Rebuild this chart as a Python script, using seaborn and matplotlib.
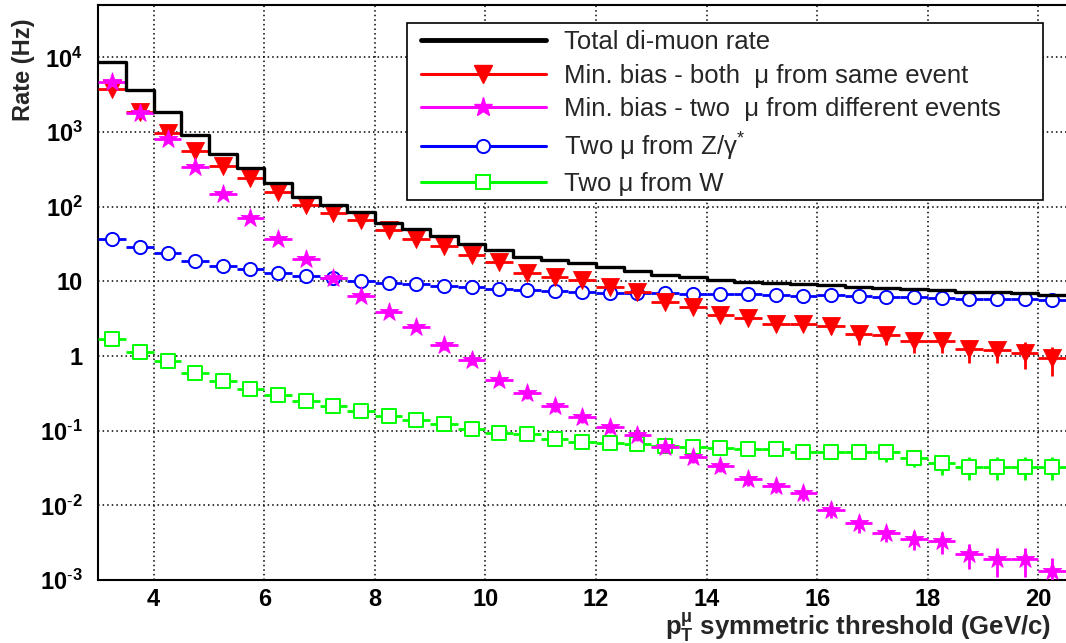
import numpy as np
import matplotlib
matplotlib.use("Agg")
import matplotlib.pyplot as plt
from matplotlib.lines import Line2D
from matplotlib.patches import Rectangle
from matplotlib.ticker import FixedLocator, FixedFormatter, MultipleLocator, LogLocator, NullFormatter
import seaborn as sns

# pT threshold bins (GeV/c)
bin_edges = [3.0, 3.5, 4.0, 4.5, 5.0, 5.5, 6.0, 6.5, 7.0, 7.5, 8.0, 8.5, 9.0, 9.5,
             10.0, 10.5, 11.0, 11.5, 12.0, 12.5, 13.0, 13.5, 14.0, 14.5, 15.0, 15.5,
             16.0, 16.5, 17.0, 17.5, 18.0, 18.5, 19.0, 19.5, 20.0, 20.5]
pt_threshold = [3.25, 3.75, 4.25, 4.75, 5.25, 5.75, 6.25, 6.75, 7.25, 7.75, 8.25, 8.75,
                9.25, 9.75, 10.25, 10.75, 11.25, 11.75, 12.25, 12.75, 13.25, 13.75,
                14.25, 14.75, 15.25, 15.75, 16.25, 16.75, 17.25, 17.75, 18.25, 18.75,
                19.25, 19.75, 20.25]

# rates in Hz
total_rate = [8700, 3700, 1830, 920, 515, 325, 205, 135, 105, 84, 60, 50, 40, 31.6, 26,
              21, 19.3, 17.4, 15.7, 13.8, 12.1, 11.3, 10.3, 9.9, 9.4, 9.2, 9.0, 8.4, 8.2,
              7.9, 7.7, 7.2, 7.1, 6.9, 6.6]
same_event = [3800, 1850, 980, 560, 355, 240, 155, 105, 83, 66, 49, 37, 29.6, 22.5, 18.3,
              12.8, 11.5, 10.4, 8.3, 7.3, 5.3, 4.6, 3.5, 3.2, 2.7, 2.7, 2.5, 2.0, 1.9, 1.6,
              1.6, 1.23, 1.2, 1.09, 0.93]
same_event_err = [120, 60, 40, 25, 18, 12, 8, 6, 5, 4, 3.2, 2.6, 2.2, 1.8, 1.6, 1.3, 1.2,
                  1.1, 1.0, 0.9, 0.8, 0.75, 0.55, 0.5, 0.45, 0.45, 0.5, 0.6, 0.5, 0.5, 0.5,
                  0.43, 0.4, 0.43, 0.39]
diff_events = [4700, 1800, 815, 340, 150, 71, 37, 19.7, 11.2, 6.4, 3.9, 2.47, 1.40, 0.88,
               0.48, 0.316, 0.214, 0.154, 0.112, 0.087, 0.061, 0.045, 0.034, 0.0223, 0.018,
               0.0145, 0.0087, 0.0058, 0.0042, 0.0035, 0.0033, 0.0022, 0.0019, 0.0019, 0.0013]
diff_events_err = [150, 80, 40, 20, 10, 5, 3, 1.8, 1.1, 0.7, 0.45, 0.3, 0.18, 0.12, 0.07,
                   0.05, 0.035, 0.026, 0.02, 0.015, 0.011, 0.008, 0.006, 0.004, 0.0035,
                   0.003, 0.002, 0.0015, 0.001, 0.001, 0.0011, 0.0008, 0.0008, 0.0008, 0.0007]
z_gamma = [36.5, 28.5, 23.7, 18.9, 16.2, 14.5, 12.8, 11.8, 11.0, 10.1, 9.6, 9.1, 8.65, 8.3,
           7.96, 7.6, 7.5, 7.25, 7.0, 7.0, 7.0, 6.76, 6.76, 6.76, 6.6, 6.4, 6.55, 6.35, 6.2,
           6.2, 6.03, 5.85, 5.85, 5.75, 5.63]
z_gamma_err = [0.5, 0.4, 0.35, 0.3, 0.25, 0.22, 0.2, 0.18, 0.17, 0.16, 0.15, 0.15, 0.14,
               0.14, 0.13, 0.13, 0.13, 0.12, 0.12, 0.12, 0.12, 0.12, 0.12, 0.12, 0.12, 0.12,
               0.12, 0.12, 0.12, 0.12, 0.12, 0.12, 0.12, 0.12, 0.12]
w_boson = [1.69, 1.14, 0.857, 0.60, 0.458, 0.358, 0.30, 0.252, 0.216, 0.185, 0.159, 0.139,
           0.122, 0.105, 0.092, 0.090, 0.077, 0.071, 0.068, 0.066, 0.0625, 0.061, 0.058,
           0.056, 0.056, 0.0524, 0.0524, 0.051, 0.051, 0.0435, 0.0366, 0.0331, 0.0331,
           0.0331, 0.0331]
w_boson_err = [0.03, 0.02, 0.015, 0.011, 0.009, 0.007, 0.006, 0.005, 0.0045, 0.004, 0.0035,
               0.0032, 0.003, 0.0028, 0.0026, 0.0026, 0.0024, 0.0023, 0.0023, 0.0024, 0.0025,
               0.0028, 0.003, 0.0045, 0.005, 0.006, 0.007, 0.008, 0.0125, 0.0105, 0.011,
               0.011, 0.011, 0.011, 0.011]

legend_labels = ["Total di-muon rate",
                 "Min. bias - both  μ from same event",
                 "Min. bias - two  μ from different events",
                 r"Two μ from Z/$\gamma^{*}$",
                 "Two μ from W"]
ytick_values = [1e-3, 1e-2, 1e-1, 1, 10, 1e2, 1e3, 1e4]
ytick_labels = [r"$10^{\text{-}3}$", r"$10^{\text{-}2}$", r"$10^{\text{-}1}$", "1", "10",
                r"$10^{2}$", r"$10^{3}$", r"$10^{4}$"]

sns.set_style("white")
plt.rcParams["font.family"] = ["Liberation Sans", "DejaVu Sans"]
plt.rcParams["mathtext.fontset"] = "custom"
plt.rcParams["mathtext.rm"] = "Liberation Sans"
plt.rcParams["mathtext.default"] = "regular"
plt.rcParams["axes.unicode_minus"] = False

fig = plt.figure(figsize=(10.66, 6.43), dpi=100)
ax = fig.add_axes([0.0923, 0.098, 0.9077, 0.894])
ax.set_yscale("log")

half_bin = 0.25
series = [
    (z_gamma, z_gamma_err, "o", "blue", False, 9.5, 3.0),
    (w_boson, w_boson_err, "s", "lime", False, 9.5, 3.2),
    (same_event, same_event_err, "v", "red", True, 13, 3.4),
    (diff_events, diff_events_err, "*", "magenta", True, 14, 3.6),
]
for vals, errs, mk, col, filled, ms, z in series:
    ax.errorbar(pt_threshold, vals, xerr=half_bin, yerr=errs, fmt="none",
                ecolor=col, elinewidth=2.0, capsize=0, zorder=z)
    sns.scatterplot(x=pt_threshold, y=vals, marker=mk, s=ms ** 2,
                    facecolor=col if filled else "white", edgecolor=col,
                    linewidth=0.6 if filled else 1.4, zorder=z + 0.1,
                    legend=False, ax=ax)

# total rate as a step histogram
sns.histplot(x=pt_threshold, weights=total_rate, bins=bin_edges, element="step",
             fill=False, color="black", linewidth=2.4, zorder=5, ax=ax)

ax.set_xlim(3, 20.5)
ax.set_ylim(1e-3, 5e4)

ax.xaxis.set_major_locator(MultipleLocator(2))
ax.xaxis.set_minor_locator(MultipleLocator(0.5))
ax.yaxis.set_major_locator(FixedLocator(ytick_values))
ax.yaxis.set_major_formatter(FixedFormatter(ytick_labels))
ax.yaxis.set_minor_locator(LogLocator(base=10, subs=np.arange(2, 10), numticks=100))
ax.yaxis.set_minor_formatter(NullFormatter())

ax.tick_params(axis="both", which="both", direction="in", width=1.1, colors="black")
ax.tick_params(axis="y", which="major", length=20, pad=11)
ax.tick_params(axis="y", which="minor", length=10)
ax.tick_params(axis="x", which="major", length=12, pad=6)
ax.tick_params(axis="x", which="minor", length=6)
for lab in ax.get_xticklabels() + ax.get_yticklabels():
    lab.set_fontsize(17)
    lab.set_fontweight("bold")

ax.grid(True, which="major", color="black", linestyle=(0, (1, 2)), linewidth=1.1)
ax.set_axisbelow(True)
for sp in ax.spines.values():
    sp.set_linewidth(1.5)
    sp.set_color("black")
ax.spines["right"].set_visible(False)

ax.set_xlabel(r"p$_{T}^{\mu}$ symmetric threshold (GeV/c)", fontsize=18.5,
              fontweight="bold", loc="right")
ax.xaxis.set_label_coords(0.985, -0.053)
ax.set_ylabel("Rate (Hz)", fontsize=17, fontweight="bold", loc="top")
ax.yaxis.set_label_coords(-0.066, 0.977)

# legend box
fig.patches.append(Rectangle((407 / 1066, 1 - 200 / 643), 636 / 1066, 177 / 643,
                             transform=fig.transFigure, facecolor="white",
                             edgecolor="black", linewidth=1.2, zorder=1))
handles = [
    Line2D([], [], color="black", linewidth=3.5),
    Line2D([], [], color="red", linewidth=2.2, marker="v", markersize=13),
    Line2D([], [], color="magenta", linewidth=2.2, marker="*", markersize=14),
    Line2D([], [], color="blue", linewidth=2.2, marker="o", markersize=9.5,
           markerfacecolor="white", markeredgewidth=1.4),
    Line2D([], [], color="lime", linewidth=2.2, marker="s", markersize=9.5,
           markerfacecolor="white", markeredgewidth=1.4),
]
fig.legend(handles, legend_labels, loc="upper left",
           bbox_to_anchor=(421 / 1066, 1 - 30 / 643), bbox_transform=fig.transFigure,
           frameon=False, borderpad=0, borderaxespad=0, fontsize=18.5,
           handlelength=4.85, handletextpad=0.72, labelspacing=0.37, numpoints=1)

fig.savefig("out.png", dpi=100)
